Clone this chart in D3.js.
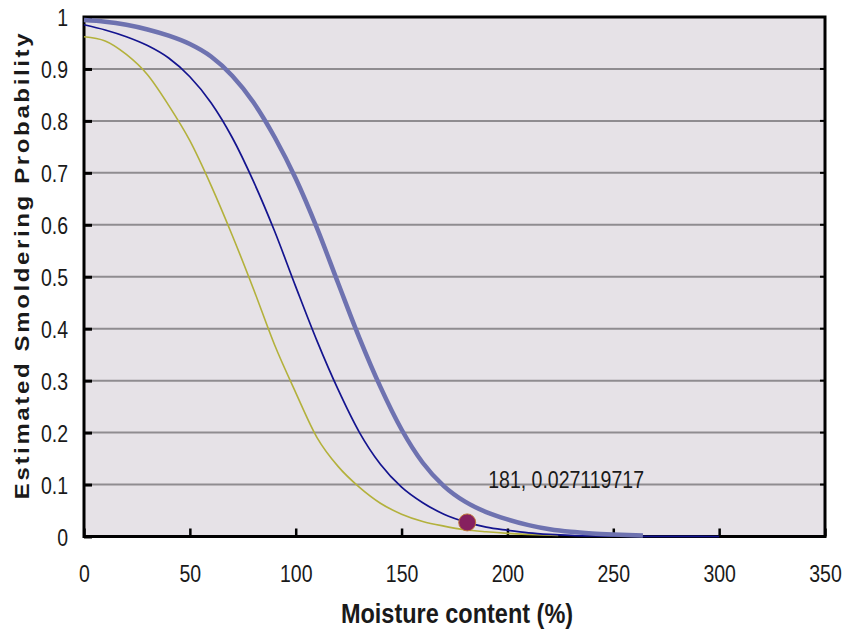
<!DOCTYPE html>
<html>
<head>
<meta charset="utf-8">
<script src="https://cdn.jsdelivr.net/npm/d3@7"></script>
<style>
  html, body { margin: 0; padding: 0; background: #ffffff; }
  svg { display: block; }
  text { font-family: "Liberation Sans", Arial, sans-serif; fill: #1a1a1a; }
</style>
</head>
<body>
<svg id="chart" width="843" height="631"></svg>
<script>
// Moisture content (%) sample points for each curve
const upperX = [0, 10, 20, 30, 40, 50, 60, 70, 80, 90, 100, 110, 120, 130, 140, 150, 160, 170, 180, 190, 200, 210, 220, 230, 240, 250, 264];
const upperP = [0.994, 0.991, 0.985, 0.976, 0.964, 0.948, 0.924, 0.887, 0.836, 0.769, 0.689, 0.594, 0.488, 0.383, 0.288, 0.206, 0.142, 0.097, 0.067, 0.047, 0.033, 0.022, 0.014, 0.009, 0.006, 0.004, 0.002];

const middleX = [0, 10, 20, 30, 40, 50, 60, 70, 80, 90, 100, 110, 120, 130, 140, 150, 160, 170, 181, 190, 200, 210, 220, 230, 240, 250, 260, 270, 280, 290, 300];
const middleP = [0.985, 0.975, 0.962, 0.945, 0.921, 0.885, 0.835, 0.768, 0.684, 0.588, 0.481, 0.377, 0.283, 0.201, 0.139, 0.095, 0.065, 0.043, 0.027119717, 0.018, 0.012, 0.007, 0.004, 0.002, 0.001, 0.0005, 0.0003, 0.0002, 0.0001, 0.0001, 0.0];

const lowerX = [0, 10, 20, 30, 40, 50, 60, 70, 80, 90, 100, 110, 120, 130, 140, 150, 160, 170, 180, 190, 200, 210, 224];
const lowerP = [0.962, 0.954, 0.928, 0.889, 0.830, 0.762, 0.676, 0.580, 0.477, 0.369, 0.277, 0.191, 0.135, 0.095, 0.064, 0.043, 0.029, 0.020, 0.013, 0.009, 0.006, 0.004, 0.002];

// Highlighted point and its label
const markX = 181;
const markP = 0.027119717;

// Axis ticks
const xTicks = [0, 50, 100, 150, 200, 250, 300, 350];
const yTicks = [0, 0.1, 0.2, 0.3, 0.4, 0.5, 0.6, 0.7, 0.8, 0.9, 1];

const svg = d3.select("#chart");
const plotLeft = 84, plotRight = 825, plotTop = 17, plotBottom = 536.5;

const x = d3.scaleLinear().domain([0, 350]).range([plotLeft, plotRight]);
const y = d3.scaleLinear().domain([0, 1]).range([plotBottom, plotTop]);

// Plot background
svg.append("rect")
  .attr("x", plotLeft).attr("y", plotTop)
  .attr("width", plotRight - plotLeft).attr("height", plotBottom - plotTop)
  .attr("fill", "#e6e2e7");

// Horizontal gridlines
svg.append("g")
  .selectAll("line")
  .data(yTicks.filter(d => d > 0 && d < 1))
  .join("line")
  .attr("x1", plotLeft).attr("x2", plotRight)
  .attr("y1", d => y(d)).attr("y2", d => y(d))
  .attr("stroke", "#8f8c90").attr("stroke-width", 2);

// Frame
svg.append("rect")
  .attr("x", plotLeft).attr("y", plotTop)
  .attr("width", plotRight - plotLeft).attr("height", plotBottom - plotTop)
  .attr("fill", "none").attr("stroke", "#000").attr("stroke-width", 3);

// Y axis: inward ticks, labels on the left
const yAxis = d3.axisLeft(y).tickValues(yTicks).tickSize(-8).tickPadding(0).tickFormat(d3.format("~g"));
const gy = svg.append("g").attr("transform", `translate(${plotLeft},0)`).call(yAxis);
gy.select(".domain").remove();
gy.selectAll(".tick line").attr("stroke", "#000").attr("stroke-width", 3);
gy.selectAll(".tick text").remove();
gy.selectAll(".tick").append("text")
  .attr("transform", "translate(-16,0) scale(1,1.22)")
  .attr("text-anchor", "end")
  .attr("dy", "0.36em")
  .style("font-size", "19.5px")
  .text(d => d3.format("~g")(d));

// Small ticks on the right edge
svg.append("g")
  .selectAll("line")
  .data(yTicks.filter(d => d > 0 && d < 1))
  .join("line")
  .attr("x1", plotRight - 5).attr("x2", plotRight)
  .attr("y1", d => y(d)).attr("y2", d => y(d))
  .attr("stroke", "#000").attr("stroke-width", 2);

// X axis: inward ticks, labels below
const xAxis = d3.axisBottom(x).tickValues(xTicks).tickSize(-8).tickPadding(0);
const gx = svg.append("g").attr("transform", `translate(0,${plotBottom})`).call(xAxis);
gx.select(".domain").remove();
gx.selectAll(".tick line").attr("stroke", "#000").attr("stroke-width", 2.5);
gx.selectAll(".tick text").remove();
gx.selectAll(".tick").append("text")
  .attr("transform", "translate(0,45.5) scale(1,1.22)")
  .attr("text-anchor", "middle")
  .style("font-size", "19.5px")
  .text(d => d);

// Curves
const line = d3.line().x(d => x(d[0])).y(d => y(d[1])).curve(d3.curveMonotoneX);
const zip = (xs, ps) => xs.map((v, i) => [v, ps[i]]);

svg.append("path")
  .datum(zip(lowerX, lowerP))
  .attr("d", line)
  .attr("fill", "none").attr("stroke", "#b3b13c").attr("stroke-width", 1.6);

svg.append("path")
  .datum(zip(middleX, middleP))
  .attr("d", line)
  .attr("fill", "none").attr("stroke", "#14148f").attr("stroke-width", 1.7);

svg.append("path")
  .datum(zip(upperX, upperP))
  .attr("d", line)
  .attr("fill", "none").attr("stroke", "#6e72b0").attr("stroke-width", 4.5)
  .attr("stroke-linejoin", "round");

// Highlighted point
svg.append("circle")
  .attr("cx", x(markX)).attr("cy", y(markP))
  .attr("r", 8.5)
  .attr("fill", "#86205f").attr("stroke", "#c0783a").attr("stroke-width", 1);

svg.append("text")
  .attr("transform", `translate(${x(markX) + 21},${y(markP) - 34}) scale(1,1.22)`)
  .style("font-size", "19.5px")
  .text(`${markX}, ${markP}`);

// Axis titles
svg.append("text")
  .attr("transform", "translate(457,623) scale(1,1.2)")
  .attr("text-anchor", "middle")
  .style("font-size", "23.5px")
  .style("font-weight", "bold")
  .text("Moisture content (%)");

svg.append("text")
  .attr("transform", "translate(29,265) scale(1.0,1.2) rotate(-90)")
  .attr("text-anchor", "middle")
  .style("font-size", "20px")
  .style("font-weight", "bold")
  .style("letter-spacing", "2.2px")
  .text("Estimated Smoldering Probability");
</script>
</body>
</html>
